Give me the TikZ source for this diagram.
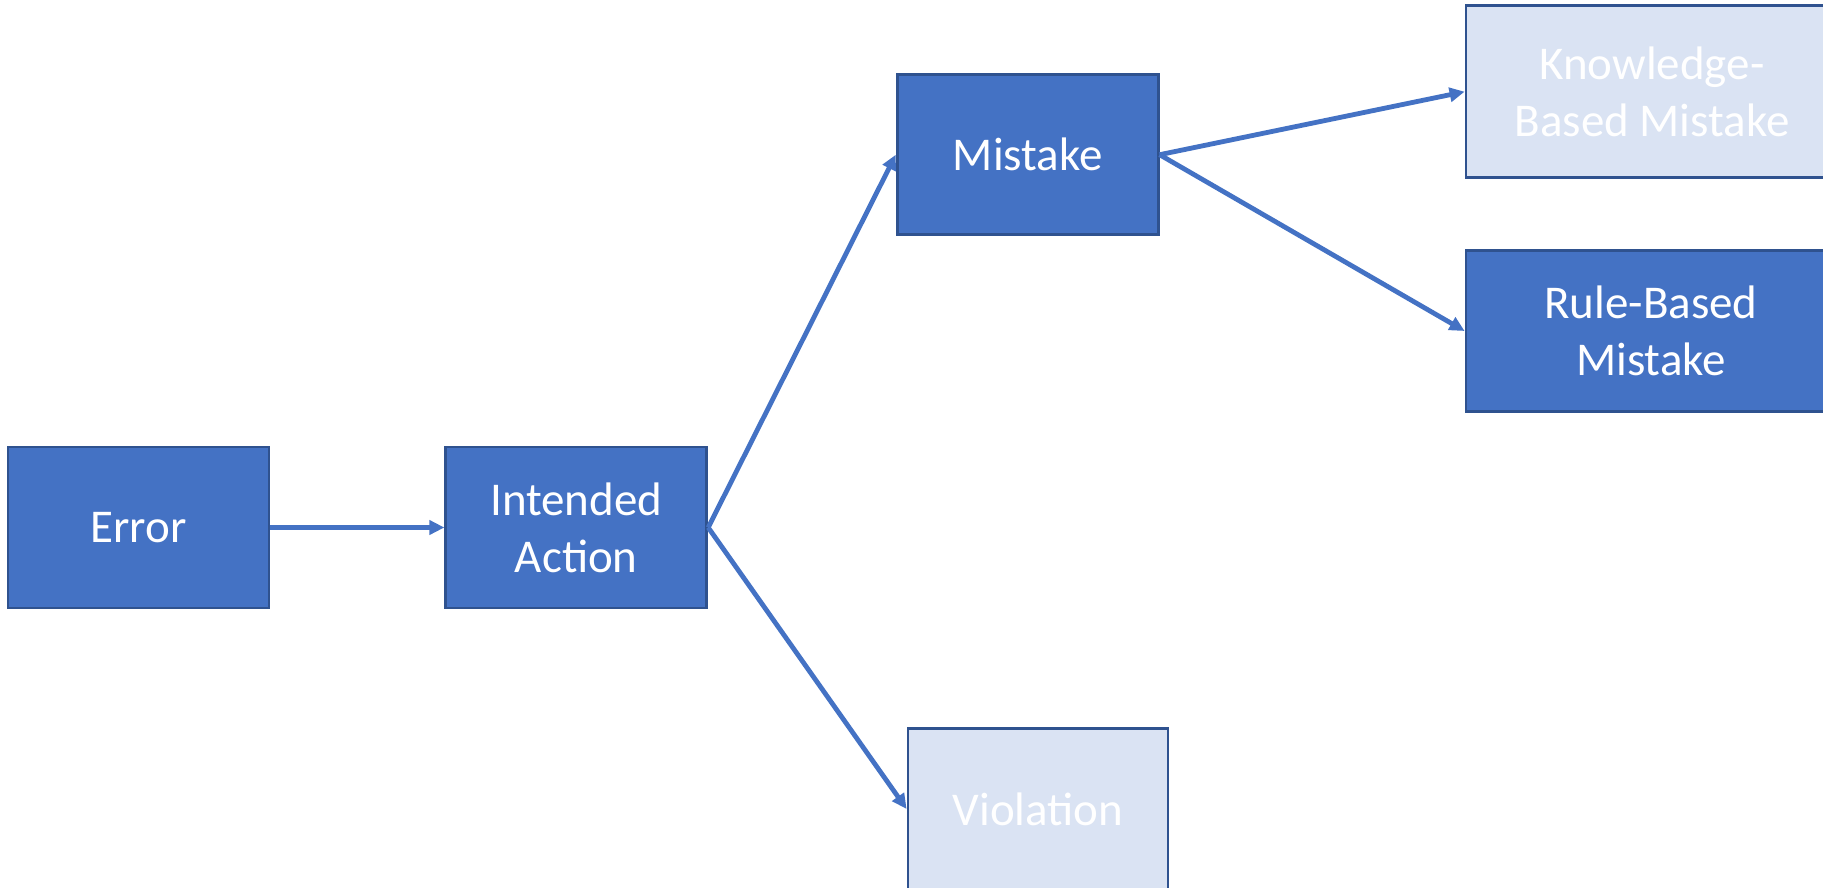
\documentclass[tikz,border=0pt]{standalone}
\usepackage{fontspec}
\setmainfont{Carlito}
\usetikzlibrary{arrows.meta}
\definecolor{boxfill}{HTML}{4472C4}
\definecolor{boxline}{HTML}{2F528F}
\definecolor{lightfill}{HTML}{DAE3F3}
\definecolor{linkcol}{HTML}{4472C4}
\tikzset{
  darkbox/.style={draw=boxline, line width=2.8pt, fill=boxfill, text=white, align=center,
    inner sep=0pt, font=\fontsize{47}{57}\selectfont},
  lightbox/.style={darkbox, fill=lightfill},
  link/.style={draw=linkcol, line width=4.8pt, -{Triangle[length=15pt,width=14pt]}}
}
\begin{document}
\begin{tikzpicture}[x=1pt,y=-1pt]
\clip (0,0) rectangle (1823,888);
\fill[white] (0,0) rectangle (1823,888);
\node[darkbox, minimum width=261pt, minimum height=161pt] (error) at (138.5,527.5) {Error};
\node[darkbox, minimum width=261pt, minimum height=161pt] (intended) at (576.3,527.5) {Intended\\Action};
\node[darkbox, minimum width=261pt, minimum height=160pt] (mistake) at (1027.7,154.7) {Mistake};
\node[lightbox, minimum width=372pt, minimum height=172pt] (knowledge) at (1652,91.7) {Knowledge-\\Based Mistake};
\node[darkbox, minimum width=370pt, minimum height=161pt] (rule) at (1651,331) {Rule-Based\\Mistake};
\node[lightbox, minimum width=260pt, minimum height=161pt] (violation) at (1038,809) {Violation};
\draw[link] (error.east) -- (intended.west);
\draw[link] (intended.east) -- (mistake.west);
\draw[link] (intended.east) -- (violation.west);
\draw[link] (mistake.east) -- (knowledge.west);
\draw[link] (mistake.east) -- (rule.west);
\end{tikzpicture}
\end{document}
